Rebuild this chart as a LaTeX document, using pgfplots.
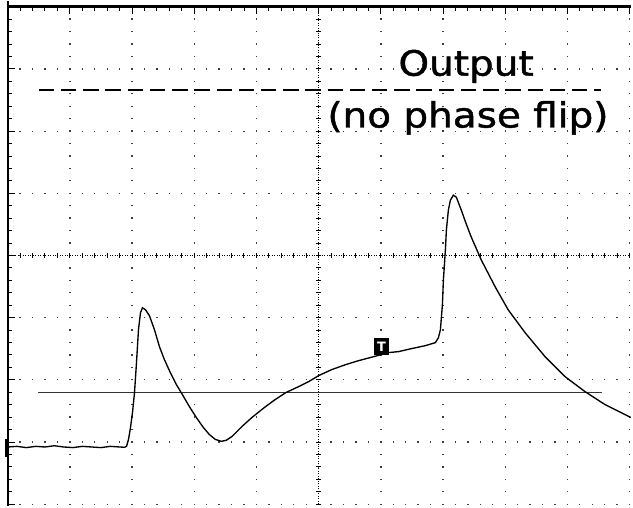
\documentclass[border=0pt]{standalone}
\usepackage{pgfplots}
\pgfplotsset{compat=1.18}
\usepackage{fontspec}
\setmainfont{DejaVu Sans}
\newfontfamily\labelfont[FakeStretch=1.12, FakeBold=1.3]{DejaVu Sans}

\begin{document}
\begin{tikzpicture}
\begin{axis}[
  scale only axis, width=624.3bp, height=499.2bp,
  xmin=0, xmax=10, ymin=-4, ymax=4,
  xtick={0,...,10}, ytick={-4,...,4},
  minor tick num=4,
  xticklabels={}, yticklabels={},
  xtick pos=right, ytick pos=left,
  tick align=inside,
  major tick length=7bp, minor tick length=4bp,
  every tick/.style={black, line width=1bp},
  axis line style={draw=none},
  grid=major,
  major grid style={black!75, line width=1.3bp, dash pattern=on 1.3bp off 11.183bp, dash phase=0.65bp},
  clip=false,
]
% visible screen area
\path (axis cs:-0.1233,-4.032) rectangle (axis cs:10.016,4.096);

% screen frame: left and top edges as filled strips
\fill[black] (axis cs:-0.016,4.096) rectangle (axis cs:0.016,-4.032);
\fill[black] (axis cs:-0.016,3.982) rectangle (axis cs:10.016,4.022);

% centre graticule lines with their minor-division ticks
\draw[black, line width=0.9bp, dash pattern=on 0.9bp off 1.6bp] (axis cs:0,0) -- (axis cs:10,0);
\draw[black, line width=5bp, dash pattern=on 1bp off 11.483bp, dash phase=0.5bp] (axis cs:0,0) -- (axis cs:10,0);
\draw[black, line width=0.9bp, dash pattern=on 0.9bp off 1.6bp] (axis cs:5,-4) -- (axis cs:5,4);
\draw[black, line width=5bp, dash pattern=on 1bp off 11.48bp, dash phase=0.5bp] (axis cs:5,-4) -- (axis cs:5,4);

% reference levels
\addplot[black, line width=1.2bp, dash pattern=on 15.5bp off 6.8bp] coordinates {(0.50,2.663) (9.54,2.663)};
\addplot[black!80, line width=1.4bp] coordinates {(0.485,-2.199) (9.55,-2.199)};

% output trace
\addplot[black, line width=1.35bp] coordinates {
(0.00,-3.08) (0.15,-3.07) (0.30,-3.09) (0.45,-3.07) (0.60,-3.08) (0.75,-3.06)
(0.90,-3.08) (1.05,-3.09) (1.20,-3.07) (1.35,-3.08) (1.50,-3.09) (1.65,-3.07)
(1.80,-3.08) (1.879,-3.085)
(1.911,-3.069) (1.943,-2.957) (1.975,-2.764) (2.007,-2.524) (2.039,-2.204)
(2.071,-1.723) (2.103,-1.194) (2.135,-0.921) (2.167,-0.841)
(2.216,-0.873) (2.280,-0.970) (2.360,-1.194) (2.440,-1.466) (2.520,-1.675)
(2.600,-1.851) (2.712,-2.075) (2.808,-2.236) (2.920,-2.428) (3.032,-2.604)
(3.144,-2.764) (3.240,-2.877) (3.336,-2.957) (3.433,-2.989) (3.513,-2.973)
(3.609,-2.909) (3.769,-2.748) (3.929,-2.604) (4.121,-2.450) (4.282,-2.330)
(4.474,-2.204) (4.682,-2.107) (4.842,-2.027) (5.002,-1.931) (5.211,-1.835)
(5.435,-1.755) (5.643,-1.691) (5.884,-1.627) (6.124,-1.562) (6.284,-1.546)
(6.492,-1.498) (6.716,-1.450) (6.876,-1.402) (6.925,-1.322) (6.957,-1.194)
(6.989,-0.793) (7.005,-0.393) (7.037,0.088) (7.053,0.409) (7.085,0.729)
(7.117,0.889) (7.165,0.970) (7.213,0.938) (7.293,0.729) (7.373,0.505)
(7.453,0.296) (7.614,-0.072) (7.838,-0.505) (8.046,-0.873) (8.319,-1.242)
(8.639,-1.627) (8.959,-1.947) (9.279,-2.188) (9.600,-2.396) (10.016,-2.604)
};

% trigger and ground markers
\node[fill=black, draw=black, text=white, inner sep=0pt, minimum width=14bp, minimum height=16bp,
      font=\bfseries\fontsize{13}{13}\selectfont] at (axis cs:6.011,-1.466) {T};
\fill[black] (axis cs:-0.043,-2.957) rectangle (axis cs:0.005,-3.245);

% annotation
\node[anchor=base, inner sep=0pt, font=\labelfont\fontsize{35}{40}\selectfont] at (axis cs:7.37,2.893) {Output};
\node[anchor=base, inner sep=0pt, font=\labelfont\fontsize{35}{40}\selectfont] at (axis cs:7.40,2.059) {(no phase flip)};
\end{axis}
\end{tikzpicture}
\end{document}
